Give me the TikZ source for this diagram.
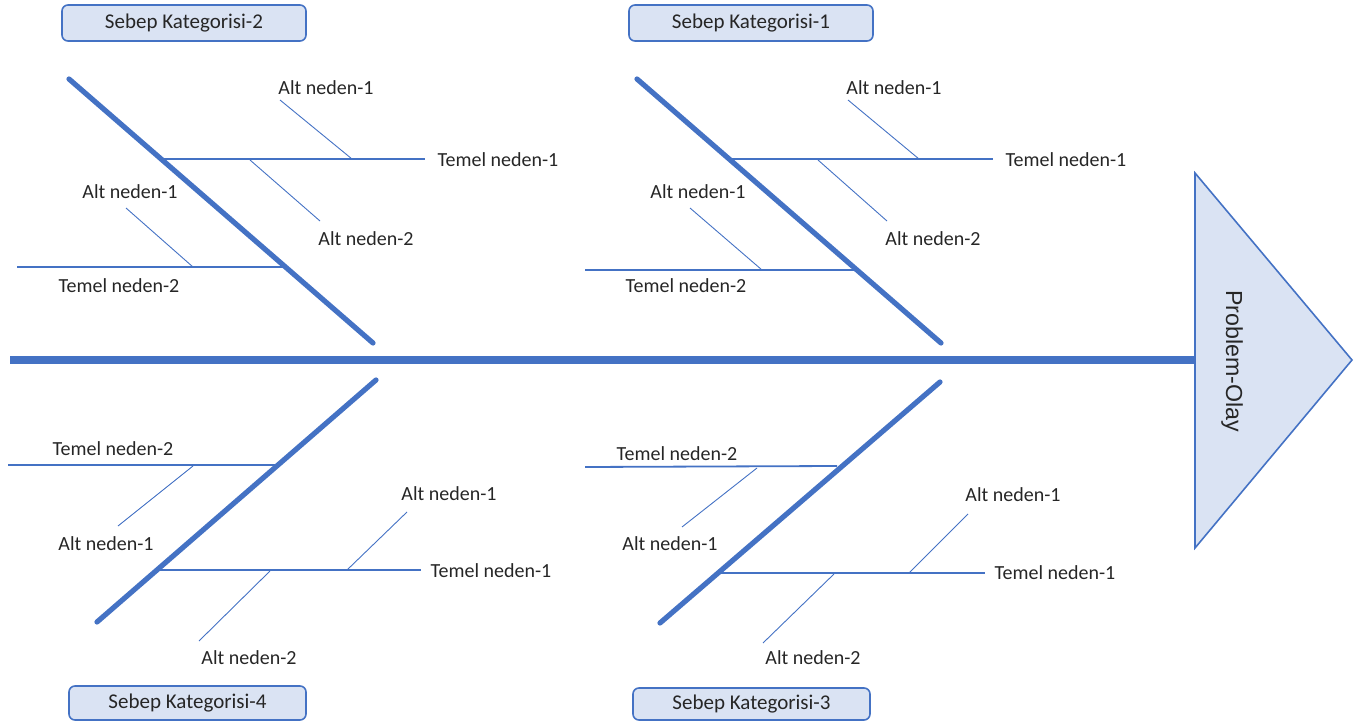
\documentclass[tikz,border=0pt]{standalone}
\usepackage{fontspec}
\setmainfont{Carlito}
\newfontfamily\probfont{Liberation Sans}
\definecolor{bblue}{HTML}{4472C4}
\definecolor{lblue}{HTML}{DAE3F3}
\definecolor{txt}{HTML}{262626}
\tikzset{
  spine/.style={draw=bblue, line width=4pt},
  bone/.style={draw=bblue, line width=2.6pt, line cap=round},
  cause/.style={draw=bblue, line width=0.9pt},
  sub/.style={draw=bblue, line width=0.45pt},
  lbl/.style={inner sep=0pt, text=txt, font=\fontsize{10}{12}\selectfont},
  catbox/.style={draw=bblue, fill=lblue, line width=0.8pt, rounded corners=3pt, text=txt,
     font=\fontsize{10.5}{12}\selectfont, inner sep=0pt},
}
\begin{document}
\begin{tikzpicture}[x=0.5pt,y=-0.5pt]
\useasboundingbox (0,0) rectangle (1362,722);
% head
\coordinate (s0) at (10,360);
\coordinate (h1) at (1195,173);
\coordinate (h2) at (1195,548);
\coordinate (h3) at (1352,360);
\draw[spine] (s0) -- (1195,360) coordinate (s1);
\draw[draw=bblue, fill=lblue, line width=0.8pt] (h1) -- (h3) -- (h2) -- cycle;
\node[inner sep=0pt, rotate=-90, text=txt, font=\probfont\fontsize{11.6}{13}\selectfont] (prob) at (1232,361) {Problem-Olay};

% categories
\node[catbox, minimum width=122pt, minimum height=18pt] (c2) at (184,23) {Sebep Kategorisi-2};
\node[catbox, minimum width=122pt, minimum height=18pt] (c1) at (751,23) {Sebep Kategorisi-1};
\node[catbox, minimum width=118.5pt, minimum height=17pt] (c4) at (187.5,703) {Sebep Kategorisi-4};
\node[catbox, minimum width=118.5pt, minimum height=16pt] (c3) at (751.5,704) {Sebep Kategorisi-3};

% ===== upper left (category 2)
\coordinate (b2a) at (69,79);
\coordinate (b2b) at (373,343);
\draw[bone] (b2a) -- (b2b);
\coordinate (t21a) at (162,159); \coordinate (t21b) at (425,159);
\draw[cause] (t21a) -- (t21b);
\node[lbl] (l21) at (498,160) {Temel neden-1};
\coordinate (a21a) at (280,100); \coordinate (a21b) at (352,159);
\draw[sub] (a21a) -- (a21b);
\node[lbl] (la21) at (326,88) {Alt neden-1};
\coordinate (a22a) at (250,160); \coordinate (a22b) at (320,221);
\draw[sub] (a22a) -- (a22b);
\node[lbl] (la22) at (366,239) {Alt neden-2};
\coordinate (t22a) at (17,267); \coordinate (t22b) at (285,267);
\draw[cause] (t22a) -- (t22b);
\node[lbl] (l22) at (119,286) {Temel neden-2};
\coordinate (a23a) at (126,208); \coordinate (a23b) at (193,267);
\draw[sub] (a23a) -- (a23b);
\node[lbl] (la23) at (130,192) {Alt neden-1};

% ===== upper right (category 1)
\coordinate (b1a) at (637,79);
\coordinate (b1b) at (941,343);
\draw[bone] (b1a) -- (b1b);
\coordinate (t11a) at (730,159); \coordinate (t11b) at (993,159);
\draw[cause] (t11a) -- (t11b);
\node[lbl] (l11) at (1066,160) {Temel neden-1};
\coordinate (a11a) at (848,100); \coordinate (a11b) at (919,159);
\draw[sub] (a11a) -- (a11b);
\node[lbl] (la11) at (894,88) {Alt neden-1};
\coordinate (a12a) at (818,160); \coordinate (a12b) at (887,221);
\draw[sub] (a12a) -- (a12b);
\node[lbl] (la12) at (933,239) {Alt neden-2};
\coordinate (t12a) at (585,270); \coordinate (t12b) at (854,270);
\draw[cause] (t12a) -- (t12b);
\node[lbl] (l12) at (686,286) {Temel neden-2};
\coordinate (a13a) at (690,208); \coordinate (a13b) at (762,270);
\draw[sub] (a13a) -- (a13b);
\node[lbl] (la13) at (698,192) {Alt neden-1};

% ===== lower left (category 4)
\coordinate (b4a) at (97,622);
\coordinate (b4b) at (376,380);
\draw[bone] (b4a) -- (b4b);
\coordinate (t42a) at (8,465); \coordinate (t42b) at (275,465);
\draw[cause] (t42a) -- (t42b);
\node[lbl] (l42) at (113,449) {Temel neden-2};
\coordinate (a43a) at (193,466); \coordinate (a43b) at (118,526);
\draw[sub] (a43a) -- (a43b);
\node[lbl] (la43) at (106,544) {Alt neden-1};
\coordinate (t41a) at (157,570); \coordinate (t41b) at (421,570);
\draw[cause] (t41a) -- (t41b);
\node[lbl] (l41) at (491,571) {Temel neden-1};
\coordinate (a41a) at (347,570); \coordinate (a41b) at (407,512);
\draw[sub] (a41a) -- (a41b);
\node[lbl] (la41) at (449,494) {Alt neden-1};
\coordinate (a42a) at (270,571); \coordinate (a42b) at (199,641);
\draw[sub] (a42a) -- (a42b);
\node[lbl] (la42) at (249,658) {Alt neden-2};

% ===== lower right (category 3)
\coordinate (b3a) at (660,623);
\coordinate (b3b) at (940,382);
\draw[bone] (b3a) -- (b3b);
\coordinate (t32a) at (585,467); \coordinate (t32b) at (837,466);
\draw[cause] (t32a) -- (t32b);
\node[lbl] (l32) at (677,454) {Temel neden-2};
\coordinate (a33a) at (757,468); \coordinate (a33b) at (682,527);
\draw[sub] (a33a) -- (a33b);
\node[lbl] (la33) at (670,544) {Alt neden-1};
\coordinate (t31a) at (721,573); \coordinate (t31b) at (985,573);
\draw[cause] (t31a) -- (t31b);
\node[lbl] (l31) at (1055,573) {Temel neden-1};
\coordinate (a31a) at (909,573); \coordinate (a31b) at (968,514);
\draw[sub] (a31a) -- (a31b);
\node[lbl] (la31) at (1013,495) {Alt neden-1};
\coordinate (a32a) at (834,574); \coordinate (a32b) at (763,643);
\draw[sub] (a32a) -- (a32b);
\node[lbl] (la32) at (813,658) {Alt neden-2};
\end{tikzpicture}
\end{document}
